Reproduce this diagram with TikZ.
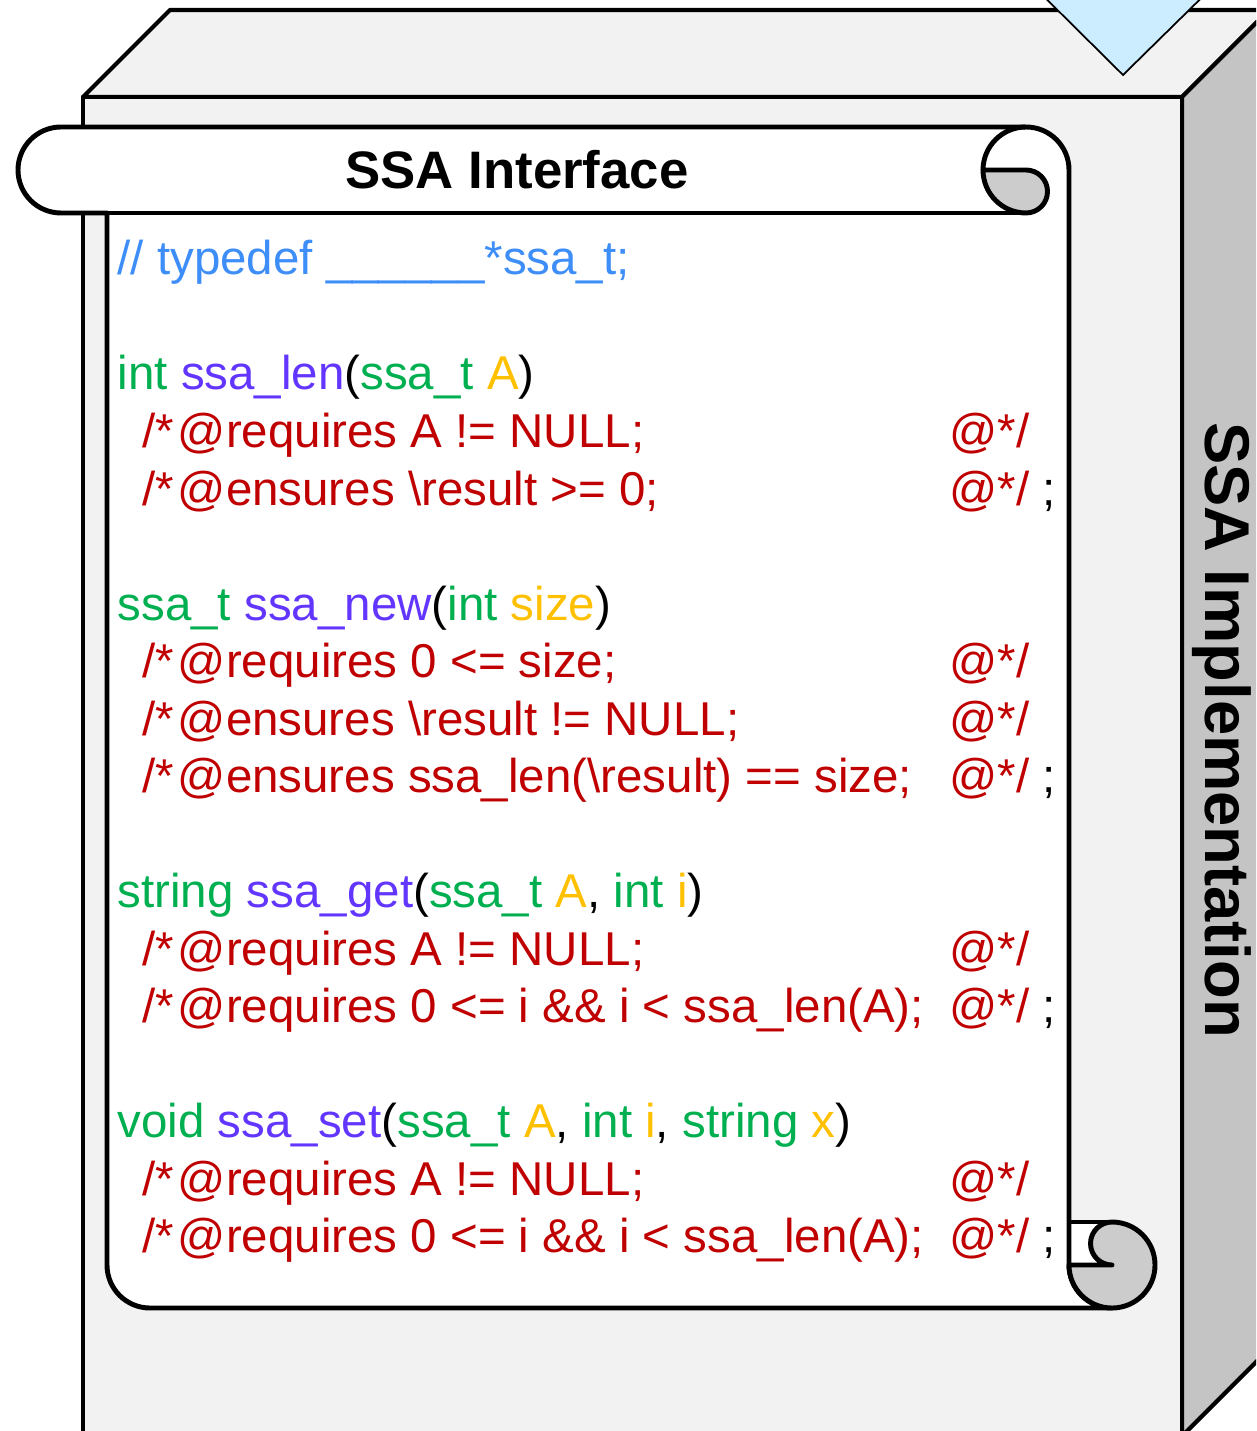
\documentclass[tikz,border=0pt]{standalone}
\usepackage{fontspec}
\setmainfont{Liberation Sans}
\definecolor{boxface}{HTML}{F2F2F2}
\definecolor{boxside}{HTML}{C4C4C4}
\definecolor{curlgray}{HTML}{CCCCCC}
\definecolor{pointblue}{HTML}{CCECFF}
\definecolor{cmtblue}{HTML}{3D8EF8}
\definecolor{tygreen}{HTML}{00B050}
\definecolor{fnpurple}{HTML}{6236FF}
\definecolor{argyellow}{HTML}{FFC000}
\definecolor{specred}{HTML}{C00000}
\newcommand{\tyc}[1]{\textcolor{tygreen}{#1}}
\newcommand{\fnc}[1]{\textcolor{fnpurple}{#1}}
\newcommand{\argc}[1]{\textcolor{argyellow}{#1}}
\newcommand{\spo}{/*\kern1pt@}
\tikzset{
  edge/.style = {line width = 1.2pt, line join = round},
  scroll/.style = {line width = 1.4pt, line join = round},
  code/.style = {anchor = base west, inner sep = 0pt, font = \fontsize{13.5}{16}\selectfont},
  spec/.style = {code, text = specred},
}
\begin{document}
\begin{tikzpicture}[x = 0.01cm, y = 0.01cm]
                    \path[use as bounding box, clip] (0,0) rectangle (1256,-1431);

                    \draw[edge, fill = boxface] (83,-97) -- (170,-10) -- (1269,-10) -- (1182,-97) -- cycle;
                    \draw[edge, fill = boxside] (1182,-97) -- (1269,-10) -- (1269,-1349) -- (1182,-1436) -- cycle;
                    \draw[edge, fill = boxface] (83,-97) rectangle (1182,-1436);
                    \draw[line width = 0.5pt, fill = pointblue] (1007,40) -- (1123,-75) -- (1240,40) -- cycle;

                    \fill[white] (1069,-1222) rectangle (1112,-1265);
                    \draw[scroll, fill = white] (61,-127) -- (1026,-127) arc[start angle = 90, end angle = 0, radius = 43]
                        -- (1069,-1265) arc[start angle = 180, end angle = 270, radius = 43]
                        -- (150,-1308) arc[start angle = 270, end angle = 180, radius = 43]
                        -- (107,-213) -- (61,-213) arc[start angle = 270, end angle = 90, radius = 43] -- cycle;
                    \draw[scroll] (61,-213) -- (1026,-213);
                    \draw[scroll, fill = curlgray] (983,-170) -- (1026,-170) arc[start angle = 90, end angle = -90, radius = 21.5]
                        arc[start angle = 270, end angle = 180, radius = 43] -- cycle;
                    \draw[scroll] (1026,-127) arc[start angle = 90, end angle = 180, radius = 43];
                    \draw[scroll] (1069,-1222) -- (1112,-1222);
                    \draw[scroll, fill = curlgray] (1112,-1265) -- (1069,-1265) arc[start angle = 180, end angle = 450, radius = 43]
                        arc[start angle = 90, end angle = 270, radius = 21.5] -- cycle;

                    \node[font = \bfseries\fontsize{15}{18}\selectfont] (title) at (517,-170) {SSA Interface};
                    \node[font = \bfseries\fontsize{18}{22}\selectfont, rotate = -90] (impl) at (1222,-730) {SSA Implementation};

                    \node[code, text = cmtblue] (typedef) at (117,-275) {// typedef \_\_\_\_\_\_*ssa\_t;};

                    \node[code] (len) at (117,-390) {\tyc{int} \fnc{ssa\_len}(\tyc{ssa\_t} \argc{A})};
                    \node[spec] (lenreq) at (142,-447.5) {\spo requires A != NULL;};
                    \node[spec] (lenens) at (142,-505) {\spo ensures \textbackslash result >= 0;};

                    \node[code] (new) at (117,-620) {\tyc{ssa\_t} \fnc{ssa\_new}(\tyc{int} \argc{size})};
                    \node[spec] (newreq) at (142,-677.5) {\spo requires 0 <= size;};
                    \node[spec] (newens) at (142,-735) {\spo ensures \textbackslash result != NULL;};
                    \node[spec] (newlen) at (142,-792.5) {\spo ensures ssa\_len(\textbackslash result) == size;};

                    \node[code] (get) at (117,-907.5) {\tyc{string} \fnc{ssa\_get}(\tyc{ssa\_t} \argc{A}, \tyc{int} \argc{i})};
                    \node[spec] (getreq) at (142,-965) {\spo requires A != NULL;};
                    \node[spec] (getidx) at (142,-1022.5) {\spo requires 0 <= i \&\& i < ssa\_len(A);};

                    \node[code] (set) at (117,-1137.5) {\tyc{void} \fnc{ssa\_set}(\tyc{ssa\_t} \argc{A}, \tyc{int} \argc{i}, \tyc{string} \argc{x})};
                    \node[spec] (setreq) at (142,-1195) {\spo requires A != NULL;};
                    \node[spec] (setidx) at (142,-1252.5) {\spo requires 0 <= i \&\& i < ssa\_len(A);};

                    \foreach \y in {447.5, 677.5, 735, 965, 1195}
                        \node[spec] (open\y) at (949,-\y) {@*/};
                    \foreach \y in {505, 792.5, 1022.5, 1252.5}
                        \node[spec] (close\y) at (949,-\y) {@*/ \textcolor{black}{;}};
                \end{tikzpicture}
\end{document}
